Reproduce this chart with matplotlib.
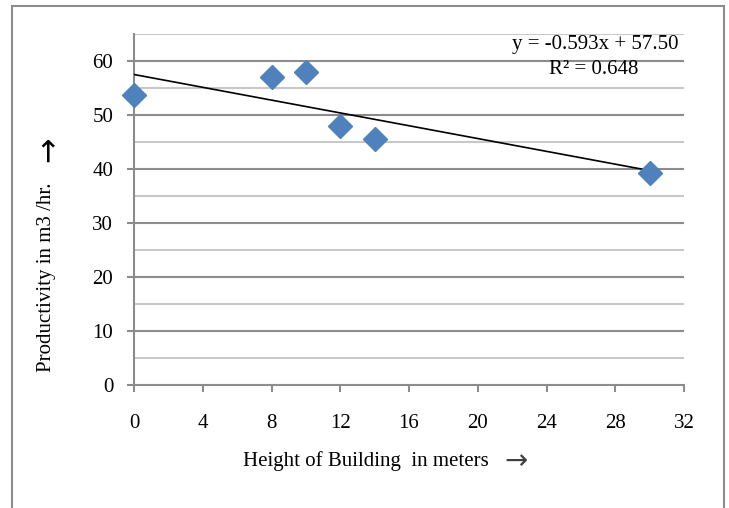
import matplotlib.pyplot as plt
from matplotlib.patches import Rectangle
from matplotlib.ticker import MultipleLocator

# building height (m) vs productivity (m3/hr)
height = [0, 8, 10, 12, 14, 30]
productivity = [53.7, 57.0, 58.0, 48.0, 45.5, 39.3]

# trend line as printed on the chart
slope = -0.593
intercept = 57.50
r2 = 0.648

plt.rcParams['font.family'] = ['Liberation Serif', 'DejaVu Serif']

fig = plt.figure(figsize=(7.29, 5.08), dpi=100)
ax = fig.add_axes([134/729, 1-385/508, 550/729, 351/508])

# outer chart border
fig.patches.append(Rectangle((12/729, -0.05), 712/729, 1.05-6/508, transform=fig.transFigure,
                             fill=False, edgecolor='#8c8c8c', lw=1.5))

# gridlines: major every 10 darker, minor every 5 lighter
for v in range(5, 70, 5):
    if v % 10 == 0:
        ax.axhline(v, color='#8c8c8c', lw=1.5, zorder=1)
    else:
        ax.axhline(v, color='#c8c8c8', lw=1.5, zorder=1)

xs = [min(height), max(height)]
ax.plot(xs, [slope*x + intercept for x in xs], color='black', lw=1.2, zorder=3)
ax.plot(height, productivity, 'D', color='#4f81bd', markersize=12, zorder=4, clip_on=False)

ax.set_xlim(0, 32)
ax.set_ylim(0, 65)
ax.xaxis.set_major_locator(MultipleLocator(4))
ax.yaxis.set_major_locator(MultipleLocator(10))

for s in ['top', 'right']:
    ax.spines[s].set_visible(False)
for s in ['left', 'bottom']:
    ax.spines[s].set_color('#8c8c8c')
    ax.spines[s].set_linewidth(1.5)
ax.tick_params(axis='x', direction='out', length=5, color='#8c8c8c', width=1.5, labelsize=15, pad=16)
ax.tick_params(axis='y', direction='out', length=5, color='#8c8c8c', width=1.5, labelsize=15, pad=10)

ax.text(0.99, 0.97, 'y = -0.593x + %.2f' % intercept, transform=ax.transAxes, ha='right', va='center', fontsize=15)
ax.text(0.835, 0.9, 'R² = %.3f' % r2, transform=ax.transAxes, ha='center', va='center', fontsize=15)

fig.text(366/729, 1-461/508, 'Height of Building  in meters', ha='center', va='center', fontsize=15)
fig.text(516/729, 1-461/508, '→', ha='center', va='center', fontsize=20, color='#404040',
         family=['DejaVu Sans'])
fig.text(47/729, 1-277/508, 'Productivity in m3 /hr.', ha='center', va='center', fontsize=15,
         rotation=90)
fig.text(49/729, 1-149/508, '→', ha='center', va='center', fontsize=22, color='black',
         rotation=90, family=['DejaVu Sans'])

fig.savefig('out.png', dpi=100)
